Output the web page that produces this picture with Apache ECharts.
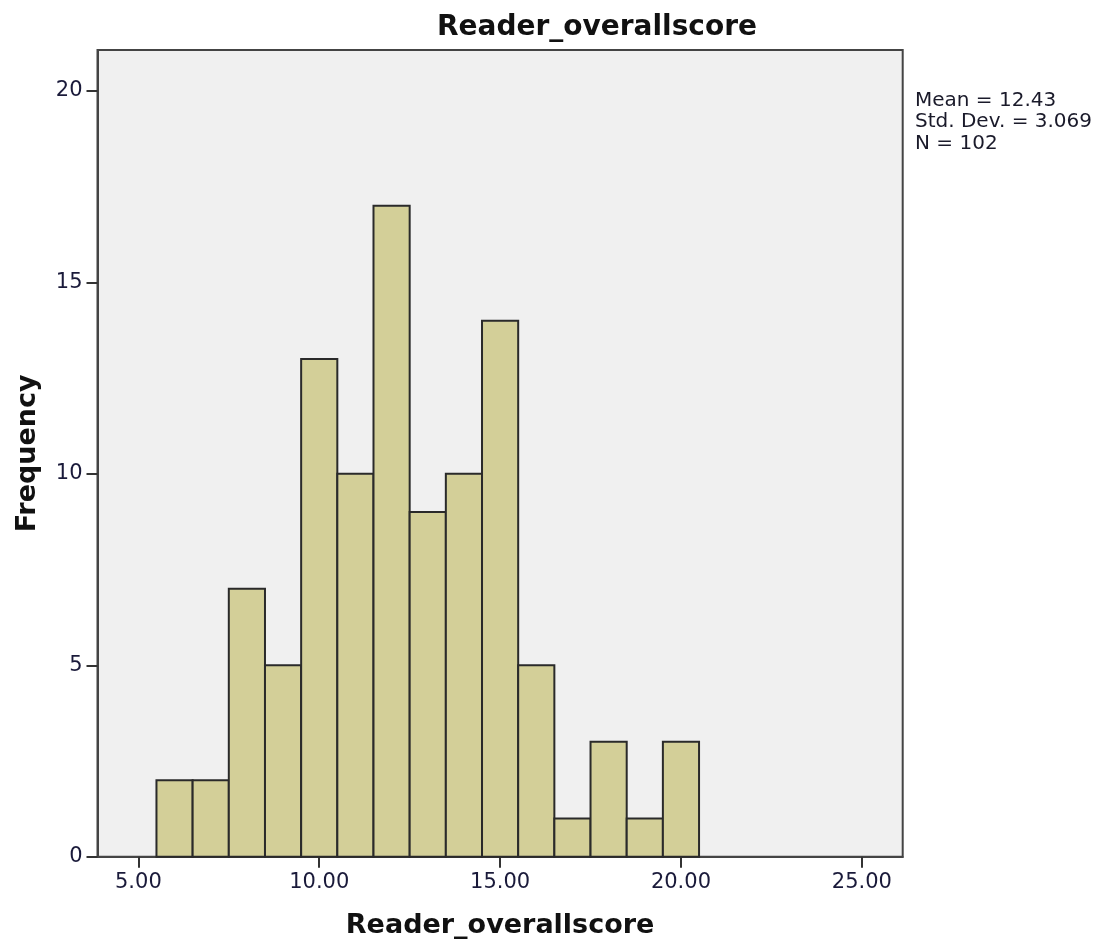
<!DOCTYPE html>
<html>
<head>
<meta charset="utf-8">
<script src="https://cdn.jsdelivr.net/npm/echarts@6/dist/echarts.min.js"></script>
<style>html,body{margin:0;padding:0;background:#fff}#c{width:1100px;height:948px}</style>
</head>
<body>
<div id="c"></div>
<script>
var binCenters = [6, 7, 8, 9, 10, 11, 12, 13, 14, 15, 16, 17, 18, 19, 20];
var counts = [2, 2, 7, 5, 13, 10, 17, 9, 10, 14, 5, 1, 3, 1, 3];
var binWidth = 1;
var xTicks = [5, 10, 15, 20, 25];
var yTicks = [0, 5, 10, 15, 20];
var statsLines = ['Mean = 12.43', 'Std. Dev. = 3.069', 'N = 102'];
var titleText = 'Reader_overallscore';
var xName = 'Reader_overallscore';
var yName = 'Frequency';

var chart = echarts.init(document.getElementById('c'), null, {renderer: 'canvas'});
var data = binCenters.map(function (c, i) { return [c - binWidth / 2, c + binWidth / 2, counts[i]]; });
var font = 'DejaVu Sans';
chart.setOption({
  animation: false,
  title: {
    text: titleText, left: 432, top: 9,
    textStyle: {fontFamily: font, fontWeight: 'bold', fontSize: 28, color: '#111'}
  },
  graphic: [{
    type: 'text', left: 915, top: 90,
    style: {text: statsLines.join('\n'), fontFamily: font, fontSize: 20, lineHeight: 21.5, fill: '#1a1a2a'}
  }],
  grid: {
    left: 97.5, top: 50, right: 197.3, bottom: 91.3,
    outerBoundsMode: 'none', containLabel: false,
    show: true, backgroundColor: '#f0f0f0', borderColor: '#444', borderWidth: 2
  },
  xAxis: {
    type: 'value', min: 3.87, max: 26.13,
    name: xName, nameLocation: 'middle', nameGap: 56,
    nameTextStyle: {fontFamily: font, fontWeight: 'bold', fontSize: 27, color: '#111'},
    splitLine: {show: false},
    axisLine: {show: true, onZero: false, lineStyle: {color: '#444', width: 2}},
    axisTick: {show: true, inside: false, length: 11, customValues: xTicks, lineStyle: {color: '#333', width: 2}},
    axisLabel: {customValues: xTicks, margin: 15, fontFamily: font, fontSize: 21, color: '#1a1a3a',
      formatter: function (v) { return v.toFixed(2); }}
  },
  yAxis: {
    type: 'value', min: 0, max: 21.07,
    name: yName, nameLocation: 'middle', nameGap: 56, nameRotate: 90,
    nameTextStyle: {fontFamily: font, fontWeight: 'bold', fontSize: 27, color: '#111'},
    splitLine: {show: false},
    axisLine: {show: true, lineStyle: {color: '#444', width: 2}},
    axisTick: {show: true, inside: false, length: 11, customValues: yTicks, lineStyle: {color: '#333', width: 2}},
    axisLabel: {customValues: yTicks, margin: 15, fontFamily: font, fontSize: 21, color: '#1a1a3a'}
  },
  series: [{
    type: 'custom',
    data: data,
    encode: {x: [0, 1], y: 2},
    renderItem: function (params, api) {
      var p0 = api.coord([api.value(0), api.value(2)]);
      var p1 = api.coord([api.value(1), 0]);
      return {
        type: 'rect',
        shape: {x: p0[0], y: p0[1], width: p1[0] - p0[0], height: p1[1] - p0[1]},
        style: {fill: '#d3cf98', stroke: '#2a2a2a', lineWidth: 2}
      };
    }
  }]
});
</script>
</body>
</html>
